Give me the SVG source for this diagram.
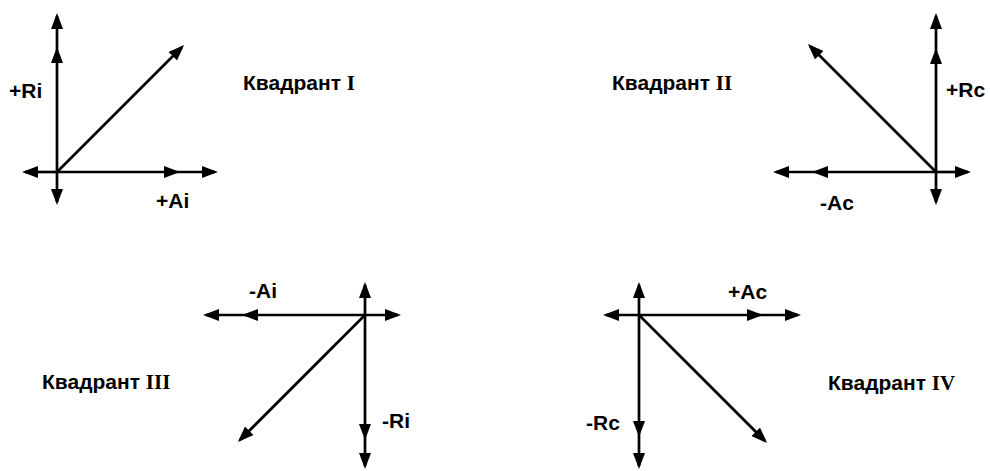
<svg xmlns="http://www.w3.org/2000/svg" width="990" height="471" viewBox="0 0 990 471">
<style>
.ax{fill:none;stroke:#000;stroke-width:2.7;marker-end:url(#ah);marker-mid:url(#ah)}
.lb{font-family:"Liberation Sans",Arial,sans-serif;font-size:21px;font-weight:bold;fill:#000}
.rn{font-family:"Liberation Serif","Times New Roman",serif;font-weight:bold}
</style>
<defs>
<marker id="ah" viewBox="0 0 16 12" refX="13" refY="6" markerWidth="16" markerHeight="12" markerUnits="userSpaceOnUse" orient="auto">
<path d="M0,0 L16,6 L0,12 z" fill="#000"/>
</marker>
</defs>
<g id="connectors">
<g id="q1-axes">
<polyline class="ax" points="57,172 57,50 57,16"/>
<polyline class="ax" points="57,172 57,202"/>
<polyline class="ax" points="57,172 25,172"/>
<polyline class="ax" points="57,172 177,172 215,172"/>
<polyline class="ax" points="57,172 182,47"/>
</g>
<g id="q2-axes">
<polyline class="ax" points="936,172 936,51 936,16"/>
<polyline class="ax" points="936,172 936,202"/>
<polyline class="ax" points="936,172 968,172"/>
<polyline class="ax" points="936,172 815,172 776,172"/>
<polyline class="ax" points="936,172 810,46"/>
</g>
<g id="q3-axes">
<polyline class="ax" points="365,315 365,285"/>
<polyline class="ax" points="365,315 365,437 365,466"/>
<polyline class="ax" points="365,315 398,315"/>
<polyline class="ax" points="365,315 245,315 206,315"/>
<polyline class="ax" points="365,315 240,440"/>
</g>
<g id="q4-axes">
<polyline class="ax" points="639,315 639,285"/>
<polyline class="ax" points="639,315 639,434 639,466"/>
<polyline class="ax" points="639,315 606,315"/>
<polyline class="ax" points="639,315 760,315 798,315"/>
<polyline class="ax" points="639,315 765,441"/>
</g>
</g>
<g id="q1">
<text class="lb" x="9" y="98">+Ri</text>
<text class="lb" x="156" y="208">+Ai</text>
<text class="lb" x="243" y="90">Квадрант <tspan class="rn">I</tspan></text>
</g>
<g id="q2">
<text class="lb" x="946" y="97">+Rc</text>
<text class="lb" x="820" y="210">-Ac</text>
<text class="lb" x="612" y="90">Квадрант <tspan class="rn">II</tspan></text>
</g>
<g id="q3">
<text class="lb" x="249" y="298">-Ai</text>
<text class="lb" x="382" y="428">-Ri</text>
<text class="lb" x="42" y="389">Квадрант <tspan class="rn">III</tspan></text>
</g>
<g id="q4">
<text class="lb" x="728" y="299">+Ac</text>
<text class="lb" x="586" y="430">-Rc</text>
<text class="lb" x="828" y="390">Квадрант <tspan class="rn">IV</tspan></text>
</g>
</svg>
